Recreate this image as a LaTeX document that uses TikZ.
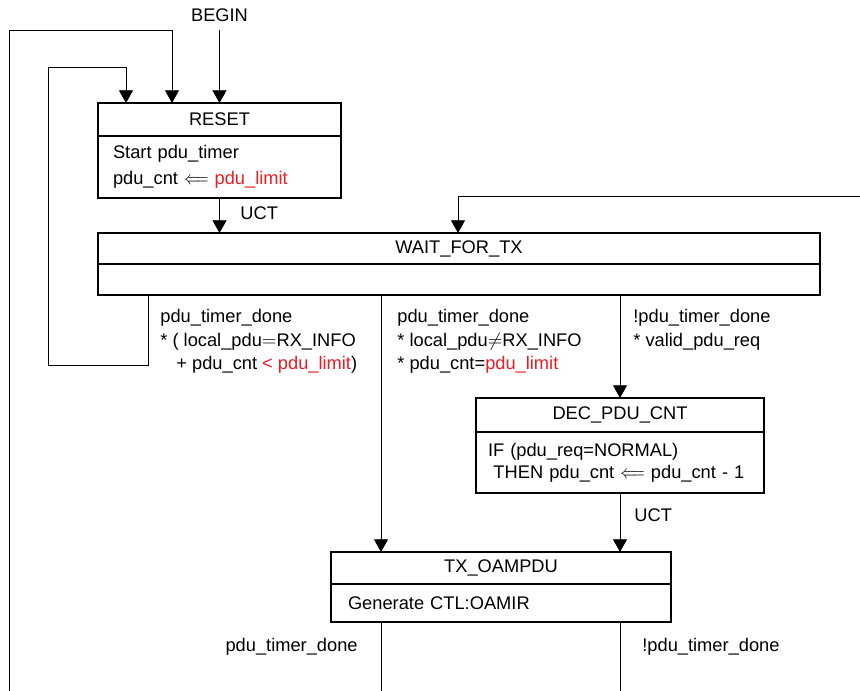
\documentclass[tikz,border=0pt]{standalone}
\usepackage{fontspec}
\setmainfont{Liberation Sans}
\usepackage{graphicx}
\usetikzlibrary{arrows.meta,positioning,calc}
\definecolor{limitred}{RGB}{232,30,36}
\newcommand{\getsarrow}{\scalebox{0.8}[1]{$\Longleftarrow$}}

\tikzset{every picture/.style={line width=0.6pt}}
\tikzset{
  statehead/.style={draw, rectangle, line width=1pt, inner sep=0pt, outer sep=0pt},
  statebody/.style={draw, rectangle, line width=1pt, inner ysep=0pt, outer sep=0pt, align=left},
  lbl/.style={inner sep=0.75pt, align=left},
  arr/.style={-{Triangle[width=10.5pt,length=9.5pt]}},
}

\begin{document}
\begin{tikzpicture}[x=0.75pt,y=0.75pt,yscale=-1,xscale=1,font=\fontsize{13.7}{17.6}\selectfont]
		\useasboundingbox (0,0) rectangle (860,691);
		
		%State: RESET
		\node[statehead, minimum width=182.25pt, minimum height=24.75pt] (reset) at (219.5,119.5) {RESET};
		\node[statebody, below=0pt of reset, minimum width=182.25pt, minimum height=46.5pt, text width=159.75pt, inner xsep=11.25pt] (reset body) {Start pdu\_timer\\[1.5pt]pdu\_cnt \getsarrow{} \textcolor{limitred}{pdu\_limit}};
		%State: WAIT_FOR_TX
		\node[statehead, minimum width=541.5pt, minimum height=23.25pt] (wait) at (459,248.5) {WAIT\_FOR\_TX};
		\node[statebody, below=0pt of wait, minimum width=541.5pt, minimum height=23.25pt] (wait body) {};
		%State: DEC_PDU_CNT
		\node[statehead, minimum width=216pt, minimum height=25.5pt] (dec) at (620,415) {DEC\_PDU\_CNT};
		\node[statebody, below=0pt of dec, minimum width=216pt, minimum height=45.75pt, text width=198pt, inner xsep=9pt] (dec body) {IF (pdu\_req=NORMAL)\\[-1pt]\hspace*{0.3em}THEN pdu\_cnt \getsarrow{} pdu\_cnt - 1};
		%State: TX_OAMPDU
		\node[statehead, minimum width=255pt, minimum height=24pt] (tx) at (501,568) {TX\_OAMPDU};
		\node[statebody, below=0pt of tx, minimum width=255pt, minimum height=28.5pt, text width=229.5pt, inner xsep=12.75pt] (tx body) {Generate CTL:OAMIR};
		
		%Labels
		\node[lbl] (begin) at (219.5,15) {BEGIN};
		\node[lbl, anchor=west] (uct reset) at (239,213) {UCT};
		\node[lbl, anchor=west] (cond retry) at (159,341.5) {pdu\_timer\_done\\* ( local\_pdu$=$RX\_INFO\\\hspace*{12pt}+ pdu\_cnt \textcolor{limitred}{< pdu\_limit})};
		\node[lbl, anchor=west] (cond send) at (396,341.5) {pdu\_timer\_done\\* local\_pdu$\neq$RX\_INFO\\* pdu\_cnt=\textcolor{limitred}{pdu\_limit}};
		\node[lbl, anchor=west] (cond dec) at (632,330) {!pdu\_timer\_done\\* valid\_pdu\_req};
		\node[lbl, anchor=west] (uct dec) at (633,515) {UCT};
		\node[lbl, anchor=east] (cond done) at (359,647) {pdu\_timer\_done};
		\node[lbl, anchor=west] (cond not done) at (641,647) {!pdu\_timer\_done};
		
		%Free ends and corners
		\coordinate (outer) at (9,691);
		\coordinate (outer top) at (172,30);
		\coordinate (inner foot) at (148,365);
		\coordinate (inner left) at (48,67);
		\coordinate (inner top) at (126,67);
		\coordinate (back) at (860,196);
		\coordinate (back top) at (458,196);
		\coordinate (mid col) at (381,691);
		
		%Connectors
		\draw[arr, shorten <=5pt] (begin) -- (reset);
		\draw[arr] (outer) |- (outer top) -- (outer top |- reset.north);
		\draw[arr] (inner foot |- wait body.south) -- (inner foot) -| (inner left) -- (inner top) -- (inner top |- reset.north);
		\draw[arr] (reset body.south) -- (reset body.south |- wait.north);
		\draw[arr] (back) -- (back top) -- (back top |- wait.north);
		\draw[arr] (mid col |- wait body.south) -- (mid col |- tx.north);
		\draw[arr] (dec.north |- wait body.south) -- (dec.north);
		\draw[arr] (dec body.south) -- (dec body.south |- tx.north);
		\draw (mid col |- tx body.south) -- (mid col);
		\draw (dec body.south |- tx body.south) -- (dec body.south |- outer);
		
\end{tikzpicture}
\end{document}
